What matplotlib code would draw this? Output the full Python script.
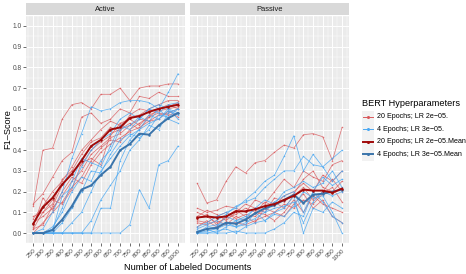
import numpy as np
import matplotlib
matplotlib.use("Agg")
import matplotlib.pyplot as plt
from matplotlib.lines import Line2D
from matplotlib.patches import Rectangle

plt.rcParams["font.family"] = ["Liberation Sans", "DejaVu Sans"]

# ------------------------------------
# DATA
# ------------------------------------
docs = [250, 300, 350, 400, 450, 500, 550, 600, 650, 700, 750, 800, 850, 900, 950, 1000]
panels = ["Active", "Passive"]
legend_labels = ["20 Epochs; LR 2e\u221205.", "4 Epochs; LR 3e\u221205.",
                 "20 Epochs; LR 2e\u221205.Mean", "4 Epochs; LR 3e\u221205.Mean"]

# Active learning, 20 epochs, single runs
active_20 = [
    [0.13, 0.40, 0.41, 0.55, 0.62, 0.63, 0.60, 0.67, 0.67, 0.70, 0.64, 0.70, 0.71, 0.71, 0.72, 0.72],
    [0.14, 0.19, 0.27, 0.35, 0.39, 0.56, 0.58, 0.53, 0.55, 0.60, 0.58, 0.66, 0.65, 0.68, 0.66, 0.66],
    [0.07, 0.13, 0.20, 0.25, 0.32, 0.40, 0.45, 0.50, 0.54, 0.52, 0.56, 0.57, 0.60, 0.62, 0.64, 0.64],
    [0.02, 0.10, 0.14, 0.26, 0.30, 0.33, 0.40, 0.44, 0.47, 0.53, 0.55, 0.52, 0.57, 0.59, 0.60, 0.61],
    [0.05, 0.08, 0.12, 0.18, 0.25, 0.30, 0.38, 0.42, 0.46, 0.48, 0.52, 0.55, 0.54, 0.57, 0.58, 0.60],
    [0.00, 0.05, 0.10, 0.15, 0.22, 0.27, 0.35, 0.41, 0.45, 0.44, 0.50, 0.53, 0.56, 0.58, 0.57, 0.58],
    [0.03, 0.17, 0.11, 0.20, 0.27, 0.24, 0.33, 0.39, 0.43, 0.46, 0.49, 0.51, 0.54, 0.55, 0.59, 0.56],
    [0.08, 0.10, 0.16, 0.14, 0.21, 0.34, 0.36, 0.33, 0.48, 0.50, 0.53, 0.50, 0.56, 0.60, 0.62, 0.60],
    [0.02, 0.04, 0.13, 0.23, 0.30, 0.38, 0.44, 0.46, 0.51, 0.49, 0.57, 0.60, 0.59, 0.60, 0.61, 0.63],
]
# Active learning, 4 epochs, single runs
active_4 = [
    [0.00, 0.00, 0.00, 0.00, 0.00, 0.00, 0.00, 0.00, 0.00, 0.00, 0.04, 0.21, 0.12, 0.33, 0.35, 0.42],
    [0.00, 0.00, 0.00, 0.00, 0.00, 0.00, 0.06, 0.16, 0.23, 0.30, 0.40, 0.45, 0.52, 0.50, 0.58, 0.60],
    [0.00, 0.00, 0.00, 0.00, 0.00, 0.00, 0.00, 0.12, 0.12, 0.35, 0.45, 0.50, 0.53, 0.55, 0.60, 0.55],
    [0.00, 0.02, 0.10, 0.20, 0.36, 0.48, 0.61, 0.59, 0.60, 0.63, 0.64, 0.64, 0.63, 0.60, 0.68, 0.77],
    [0.00, 0.00, 0.02, 0.12, 0.25, 0.36, 0.34, 0.32, 0.42, 0.52, 0.50, 0.55, 0.60, 0.58, 0.62, 0.63],
    [0.00, 0.00, 0.00, 0.05, 0.12, 0.20, 0.30, 0.29, 0.38, 0.45, 0.48, 0.46, 0.50, 0.57, 0.56, 0.60],
    [0.00, 0.00, 0.03, 0.10, 0.20, 0.27, 0.25, 0.35, 0.40, 0.50, 0.52, 0.56, 0.54, 0.60, 0.55, 0.53],
    [0.00, 0.00, 0.00, 0.00, 0.05, 0.10, 0.20, 0.30, 0.36, 0.42, 0.47, 0.50, 0.57, 0.55, 0.59, 0.57],
    [0.00, 0.00, 0.01, 0.18, 0.22, 0.32, 0.40, 0.45, 0.48, 0.55, 0.58, 0.55, 0.60, 0.62, 0.60, 0.58],
]
# Passive learning, 20 epochs, single runs
passive_20 = [
    [0.24, 0.145, 0.16, 0.25, 0.32, 0.29, 0.34, 0.35, 0.39, 0.425, 0.41, 0.475, 0.48, 0.465, 0.35, 0.51],
    [0.12, 0.10, 0.11, 0.13, 0.12, 0.10, 0.16, 0.14, 0.20, 0.26, 0.22, 0.30, 0.27, 0.25, 0.33, 0.35],
    [0.10, 0.08, 0.05, 0.07, 0.09, 0.12, 0.10, 0.15, 0.13, 0.18, 0.20, 0.24, 0.20, 0.28, 0.25, 0.30],
    [0.08, 0.11, 0.09, 0.06, 0.10, 0.14, 0.12, 0.10, 0.17, 0.15, 0.19, 0.26, 0.30, 0.22, 0.20, 0.25],
    [0.06, 0.05, 0.08, 0.10, 0.07, 0.09, 0.08, 0.12, 0.10, 0.14, 0.12, 0.16, 0.14, 0.19, 0.22, 0.15],
    [0.05, 0.04, 0.06, 0.04, 0.08, 0.06, 0.10, 0.09, 0.06, 0.10, 0.16, 0.10, 0.18, 0.14, 0.12, 0.10],
    [0.03, 0.06, 0.03, 0.05, 0.05, 0.04, 0.06, 0.08, 0.10, 0.08, 0.14, 0.19, 0.12, 0.16, 0.08, 0.05],
    [0.07, 0.09, 0.04, 0.08, 0.11, 0.08, 0.05, 0.12, 0.15, 0.12, 0.18, 0.22, 0.16, 0.20, 0.26, 0.20],
]
# Passive learning, 4 epochs, single runs
passive_4 = [
    [0.03, 0.05, 0.08, 0.10, 0.12, 0.16, 0.20, 0.25, 0.28, 0.37, 0.47, 0.30, 0.38, 0.32, 0.25, 0.30],
    [0.02, 0.04, 0.06, 0.09, 0.13, 0.15, 0.17, 0.22, 0.26, 0.30, 0.30, 0.37, 0.33, 0.32, 0.36, 0.40],
    [0.01, 0.02, 0.00, 0.03, 0.06, 0.08, 0.12, 0.10, 0.15, 0.18, 0.20, 0.10, 0.20, 0.27, 0.23, 0.26],
    [0.00, 0.01, 0.02, 0.04, 0.03, 0.05, 0.07, 0.10, 0.12, 0.13, 0.15, 0.05, 0.15, 0.20, 0.18, 0.20],
    [0.00, 0.00, 0.01, 0.02, 0.00, 0.03, 0.05, 0.06, 0.10, 0.12, 0.18, 0.00, 0.12, 0.10, 0.15, 0.12],
    [0.00, 0.00, 0.00, 0.00, 0.01, 0.00, 0.00, 0.00, 0.02, 0.05, 0.10, 0.08, 0.20, 0.15, 0.08, 0.05],
    [0.00, 0.02, 0.03, 0.08, 0.06, 0.07, 0.12, 0.16, 0.14, 0.20, 0.22, 0.25, 0.22, 0.24, 0.30, 0.22],
    [0.00, 0.03, 0.04, 0.05, 0.03, 0.04, 0.10, 0.06, 0.09, 0.08, 0.13, 0.20, 0.17, 0.18, 0.10, 0.00],
]

active_20_mean = [0.045, 0.125, 0.17, 0.235, 0.285, 0.35, 0.42, 0.45, 0.50, 0.51, 0.555, 0.565, 0.585, 0.60, 0.61, 0.62]
active_4_mean = [0.0, 0.0, 0.015, 0.065, 0.13, 0.21, 0.23, 0.28, 0.32, 0.40, 0.43, 0.48, 0.475, 0.52, 0.555, 0.58]
passive_20_mean = [0.075, 0.08, 0.075, 0.08, 0.105, 0.105, 0.115, 0.13, 0.14, 0.16, 0.18, 0.21, 0.205, 0.205, 0.195, 0.215]
passive_4_mean = [0.005, 0.02, 0.025, 0.05, 0.045, 0.065, 0.095, 0.12, 0.135, 0.16, 0.185, 0.145, 0.185, 0.19, 0.20, 0.21]

# ------------------------------------
# STYLE
# ------------------------------------
W, H = 466, 274
RED = "#d9595c"
BLUE = "#4aa8f2"
RED_MEAN = "#a00a0a"
BLUE_MEAN = "#3a74ab"
PANEL_BG = "#ebebeb"
STRIP_BG = "#d9d9d9"
TXT = "#4d4d4d"


def px(x0, y0, w, h):
    # pixel box (top-left origin) -> figure fraction
    return [x0 / W, 1 - (y0 + h) / H, w / W, h / H]


def draw_panel(ax, runs20, runs4, mean20, mean4, show_y):
    ax.set_facecolor(PANEL_BG)
    x = np.array(docs)
    for r in runs20:
        ax.plot(x, r, color=RED, lw=0.55, alpha=0.8, marker="o", ms=1.1, mew=0, zorder=2)
    for r in runs4:
        ax.plot(x, r, color=BLUE, lw=0.55, alpha=0.85, marker="o", ms=1.1, mew=0, zorder=2)
    ax.plot(x, mean20, color=RED_MEAN, lw=1.4, marker="o", ms=1.8, mew=0, zorder=4)
    ax.plot(x, mean4, color=BLUE_MEAN, lw=1.4, marker="o", ms=1.8, mew=0, zorder=3)

    ax.set_xlim(212.5, 1037.5)
    ax.set_ylim(-0.05, 1.05)
    ax.set_xticks(docs)
    ax.set_xticklabels([str(d) for d in docs], rotation=45, ha="right", va="top",
                       rotation_mode="anchor", fontsize=4.6, color=TXT)
    ax.set_xticks(np.arange(225, 1050, 50), minor=True)
    ax.set_yticks(np.arange(0, 1.01, 0.1))
    ax.set_yticks(np.arange(-0.05, 1.06, 0.1), minor=True)
    if show_y:
        ax.set_yticklabels([f"{v:.1f}" for v in np.arange(0, 1.01, 0.1)], fontsize=4.8, color=TXT)
    else:
        ax.set_yticklabels([])
    ax.tick_params(which="major", length=2, width=0.5, color="#333333", pad=1)
    ax.tick_params(axis="y", which="major", length=2 if show_y else 0)
    ax.tick_params(which="minor", length=0)
    ax.grid(which="major", color="white", lw=0.7, zorder=0)
    ax.grid(which="minor", color="white", lw=0.35, zorder=0)
    ax.set_axisbelow(True)
    for s in ax.spines.values():
        s.set_visible(False)


fig = plt.figure(figsize=(W / 100, H / 100), dpi=100)

panel_x = [26, 190]
panel_w = 159.3
panel_top, panel_h = 15.6, 227.8
data = [(active_20, active_4, active_20_mean, active_4_mean),
        (passive_20, passive_4, passive_20_mean, passive_4_mean)]

for i, name in enumerate(panels):
    ax = fig.add_axes(px(panel_x[i], panel_top, panel_w, panel_h))
    draw_panel(ax, *data[i], show_y=(i == 0))
    # facet strip
    fig.patches.append(Rectangle((panel_x[i] / W, 1 - 15.3 / H), panel_w / W, 12.3 / H,
                                 transform=fig.transFigure, facecolor=STRIP_BG,
                                 edgecolor="none"))
    fig.text((panel_x[i] + panel_w / 2) / W, 1 - 9.3 / H, name, ha="center", va="center",
             fontsize=5.4, color="#1a1a1a")

fig.text(8 / W, 1 - 129.5 / H, "F1\u2013Score", rotation=90, ha="center", va="center",
         fontsize=6.6, color="black")
fig.text((26 + 349) / 2 / W, 1 - 267 / H, "Number of Labeled Documents", ha="center",
         va="center", fontsize=6.6, color="black")

# legend drawn by hand (ggplot style keys)
fig.text(362 / W, 1 - 103 / H, "BERT Hyperparameters", ha="left", va="center",
         fontsize=6.6, color="black")
key_colors = [RED, BLUE, RED_MEAN, BLUE_MEAN]
key_lw = [0.7, 0.7, 1.4, 1.4]
key_y = [116.7, 129.2, 141.7, 154.2]
fig.patches.append(Rectangle((361.5 / W, 1 - 160.5 / H), 12 / W, 50 / H,
                             transform=fig.transFigure, facecolor="#f2f2f2",
                             edgecolor="none"))
for lab, c, lw, yy in zip(legend_labels, key_colors, key_lw, key_y):
    fig.lines.append(Line2D([362.5 / W, 372.5 / W], [1 - yy / H, 1 - yy / H],
                            transform=fig.transFigure, color=c, lw=lw))
    fig.lines.append(Line2D([367.5 / W], [1 - yy / H], transform=fig.transFigure,
                            color=c, marker="o", ms=2.2, mew=0, lw=0))
    fig.text(377 / W, 1 - yy / H, lab, ha="left", va="center", fontsize=5.1, color="black")

fig.savefig("out.png", dpi=100)
